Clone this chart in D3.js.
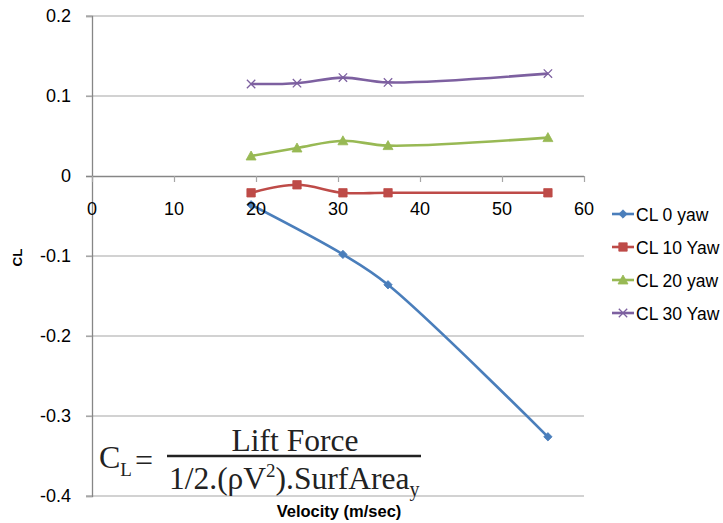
<!DOCTYPE html>
<html>
<head>
<meta charset="utf-8">
<script src="https://cdn.jsdelivr.net/npm/d3@7"></script>
<style>
  body { margin: 0; background: #fff; }
  svg { display: block; }
</style>
</head>
<body>
<svg id="chart" width="723" height="523"></svg>
<script>
// Lift coefficient vs. velocity, one series per yaw angle
const velocity = [19.4, 25.0, 30.6, 36.1, 55.6];
const velocityCL0 = [19.4, 30.6, 36.1, 55.6];
const cl0Yaw = [-0.036, -0.098, -0.136, -0.326];
const cl10Yaw = [-0.021, -0.011, -0.021, -0.021, -0.021];
const cl20Yaw = [0.025, 0.035, 0.044, 0.038, 0.048];
const cl30Yaw = [0.115, 0.116, 0.123, 0.117, 0.128];
const seriesNames = ["CL 0 yaw", "CL 10 Yaw", "CL 20 yaw", "CL 30 Yaw"];
const xTicks = [0, 10, 20, 30, 40, 50, 60];
const yTicks = [-0.4, -0.3, -0.2, -0.1, 0, 0.1, 0.2];

const series = [
  { name: seriesNames[0], xs: velocityCL0, ys: cl0Yaw, color: "#4A7EBB", marker: "diamond" },
  { name: seriesNames[1], xs: velocity, ys: cl10Yaw, color: "#BE4B48", marker: "square" },
  { name: seriesNames[2], xs: velocity, ys: cl20Yaw, color: "#98B954", marker: "triangle" },
  { name: seriesNames[3], xs: velocity, ys: cl30Yaw, color: "#7D60A0", marker: "cross" }
];

const svg = d3.select("#chart");
const x = d3.scaleLinear().domain([0, 60]).range([92, 584]);
const y = d3.scaleLinear().domain([-0.4, 0.2]).range([496, 16]);

const font = "'Liberation Sans', Arial, sans-serif";
const gridColor = "#A6A6A6";
const axisColor = "#868686";
// plain hyphen for negatives, as in the spreadsheet labels
const yFormat = d => String(+d.toFixed(1));

// horizontal gridlines
svg.append("g").selectAll("line")
  .data(yTicks.filter(d => d !== 0))
  .join("line")
  .attr("x1", x(0) - 6).attr("x2", x(60))
  .attr("y1", d => y(d)).attr("y2", d => y(d))
  .attr("stroke", gridColor).attr("stroke-width", 1.2);

// vertical axis
const yAxis = d3.axisLeft(y).tickValues(yTicks).tickSize(6).tickFormat(yFormat);
const gy = svg.append("g").attr("transform", `translate(${x(0)},0)`).call(yAxis);
gy.select(".domain").attr("stroke", axisColor).attr("stroke-width", 1.3);
gy.selectAll(".tick line").attr("stroke", gridColor).attr("stroke-width", 1.2);
gy.selectAll(".tick text")
  .attr("x", -21).attr("font-family", font).attr("font-size", 18).attr("fill", "#000");

// horizontal axis crossing at zero
const xAxis = d3.axisBottom(x).tickValues(xTicks).tickSize(6).tickFormat(d3.format("d"));
const gx = svg.append("g").attr("transform", `translate(0,${y(0)})`).call(xAxis);
gx.select(".domain").attr("stroke", axisColor).attr("stroke-width", 1.3)
  .attr("d", `M${x(0) - 6},0.5H${x(60)}`);
gx.selectAll(".tick line").attr("stroke", gridColor).attr("stroke-width", 1.2);
gx.selectAll(".tick text").remove();

// smooth series lines
const line = d3.line().curve(d3.curveCatmullRom.alpha(0.5));
const markerPath = (type, s) => {
  switch (type) {
    case "diamond": return `M0,${-s}L${s},0L0,${s}L${-s},0Z`;
    case "square": return `M${-s},${-s}H${s}V${s}H${-s}Z`;
    case "triangle": return `M0,${-s - 1}L${s + 1},${s}H${-s - 1}Z`;
    default: return `M${-s},${-s}L${s},${s}M${-s},${s}L${s},${-s}`;
  }
};
const markerSize = { diamond: 4.2, square: 4.2, triangle: 4, cross: 4.2 };

const drawMarker = (g, sr, cx, cy) => {
  const p = g.append("path")
    .attr("d", markerPath(sr.marker, markerSize[sr.marker]))
    .attr("transform", `translate(${cx},${cy})`);
  if (sr.marker === "cross") {
    p.attr("fill", "none").attr("stroke", sr.color).attr("stroke-width", 1.3);
  } else {
    p.attr("fill", sr.color).attr("stroke", sr.color).attr("stroke-width", 0.8);
  }
};

series.forEach(sr => {
  const pts = sr.xs.map((v, i) => [x(v), y(sr.ys[i])]);
  const g = svg.append("g");
  g.append("path")
    .attr("d", line(pts))
    .attr("fill", "none").attr("stroke", sr.color)
    .attr("stroke-width", 2.6).attr("stroke-linejoin", "round");
  pts.forEach(p => drawMarker(g, sr, p[0], p[1]));
});

// x tick labels drawn over the data
svg.append("g").selectAll("text")
  .data(xTicks)
  .join("text")
  .attr("x", d => x(d)).attr("y", y(0) + 39)
  .attr("text-anchor", "middle")
  .attr("font-family", font).attr("font-size", 18)
  .text(d => d);

// axis titles
svg.append("text")
  .attr("x", 339).attr("y", 517)
  .attr("text-anchor", "middle")
  .attr("font-family", font).attr("font-size", 16.5).attr("font-weight", "bold")
  .text("Velocity (m/sec)");

svg.append("text")
  .attr("transform", "translate(22,257.5) rotate(-90)")
  .attr("text-anchor", "middle")
  .attr("font-family", font).attr("font-size", 13.5).attr("font-weight", "bold")
  .text("CL");

// legend
const legend = svg.append("g");
series.forEach((sr, i) => {
  const ly = 214 + i * 33;
  legend.append("line")
    .attr("x1", 612).attr("x2", 634).attr("y1", ly).attr("y2", ly)
    .attr("stroke", sr.color).attr("stroke-width", 2.6);
  drawMarker(legend, sr, 623, ly);
  legend.append("text")
    .attr("x", 636).attr("y", ly + 6.5)
    .attr("font-family", font).attr("font-size", 17.5)
    .text(sr.name);
});

// lift coefficient definition
const serif = "'Liberation Serif', 'Times New Roman', serif";
const eq = svg.append("g").attr("font-family", serif).attr("fill", "#222");
const lhs = eq.append("text").attr("x", 99).attr("y", 468).attr("font-size", 32);
lhs.append("tspan").text("C");
lhs.append("tspan").attr("font-size", 19).attr("dy", 8).text("L");
eq.append("text").attr("x", 135).attr("y", 471).attr("font-size", 32).text("=");
eq.append("text").attr("x", 295).attr("y", 451).attr("font-size", 31.5)
  .attr("text-anchor", "middle").text("Lift Force");
eq.append("line")
  .attr("x1", 167).attr("x2", 421).attr("y1", 456).attr("y2", 456)
  .attr("stroke", "#222").attr("stroke-width", 2.4);
const den = eq.append("text").attr("x", 169).attr("y", 489).attr("font-size", 31.5);
den.append("tspan").text("1/2.(ρV");
den.append("tspan").attr("font-size", 19).attr("dy", -12).text("2");
den.append("tspan").attr("dy", 12).text(").SurfArea");
den.append("tspan").attr("font-size", 20).attr("dy", 7).text("y");
</script>
</body>
</html>
